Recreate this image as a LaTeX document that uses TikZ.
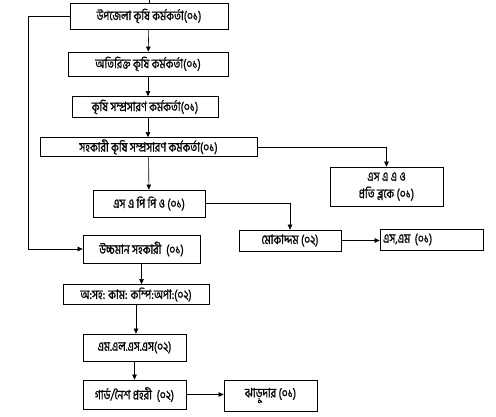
\documentclass[tikz,border=0pt]{standalone}
\usepackage{fontspec}
\newfontfamily\bnfont[Script=Bengali, FakeStretch=0.8, FakeBold=1]{Hind Siliguri}
\usepackage{tikz}
\usetikzlibrary{
	calc,
	positioning,
	arrows.meta
}

\begin{document}
\begin{tikzpicture}[
				x=1pt, y=-1pt,
				box/.style={draw, line width=0.7pt, inner sep=0pt, font=\bnfont\fontsize{13}{14}\selectfont, align=center},
				link/.style={line width=0.6pt},
				arrow/.style={->, >={Triangle[length=5pt, width=4.5pt]}, line width=0.6pt}
			]
				\useasboundingbox (0,0) rectangle (496,417);

				% 上部
				\node[box, minimum width=158pt, minimum height=26pt] (upazila)  at (149,16)    {উপজেলা কৃষি কর্মকর্তা(০১)};
				\node[box, minimum width=160pt, minimum height=24pt] (addl)     at (148,64)    {অতিরিক্ত কৃষি কর্মকর্তা(০১)};
				\node[box, minimum width=146pt, minimum height=21pt] (seo)      at (145,107)   {কৃষি সম্প্রসারণ কর্মকর্তা(০১)};
				\node[box, minimum width=217pt, minimum height=19pt] (aseo)     at (148.5,147) {সহকারী কৃষি সম্প্রসারণ কর্মকর্তা(০১)};
				\node[box, minimum width=113pt, minimum height=39pt] (saao)     at (386.5,186.5) {এস এ এ ও\\[3pt]প্রতি ব্লকে (০১)};
				\node[box, minimum width=112pt, minimum height=27pt] (sappo)    at (149,203.5) {এস এ পি পি ও (০১)};
				\node[box, minimum width=102pt, minimum height=21pt] (mokaddam) at (290,240.5) {মোকাদ্দম (০২)};
				\node[box, minimum width=103pt, minimum height=21pt, text width=97pt, align=left] (sm) at (431.5,239.5) {এস,এম (০১)};

				% 下部
				\node[box, minimum width=117pt, minimum height=28pt] (uccoman)  at (141.5,249) {উচ্চমান সহকারী~~(০১)};
				\node[box, minimum width=146pt, minimum height=20pt] (osoh)     at (136,294.5) {অ:সহ: কাম: কম্পি:অপা:(০২)};
				\node[box, minimum width=103pt, minimum height=27pt] (mlss)     at (134.5,347.5) {এম.এল.এস.এস(০২)};
				\node[box, minimum width=103pt, minimum height=29pt] (guard)    at (134.5,394.5) {গার্ড/নৈশ প্রহরী~~(০২)};
				\node[box, minimum width=93pt,  minimum height=31pt] (jharudar) at (270.5,395.5) {ঝাড়ুদার (০১)};

				% 坐标
				\coordinate (topin)   at (149,0);
				\coordinate (leftbus) at (28,16);

				% 连线
				\draw[link]  (topin) -- (upazila.north);
				\draw[arrow] (upazila) -- (addl);
				\draw[arrow] (addl.south) -- (addl.south |- seo.north);
				\draw[arrow] (seo.south -| addl.south) -- (aseo.north -| addl.south);
				\draw[arrow] (aseo) -- (sappo);
				\draw[arrow] (aseo.east) -| (saao.north);
				\draw[arrow] (sappo.east) -| (mokaddam.north);
				\draw[arrow] (mokaddam.east) -- (sm.west |- mokaddam.east);
				\draw[arrow] (upazila.west) -- (leftbus) |- (uccoman.west);
				\draw[arrow] (uccoman.south) -- (uccoman.south |- osoh.north);
				\draw[arrow] (osoh.south) -- (osoh.south |- mlss.north);
				\draw[arrow] (mlss) -- (guard);
				\draw[arrow] (guard.east) -- (jharudar.west |- guard.east);
			\end{tikzpicture}
\end{document}
